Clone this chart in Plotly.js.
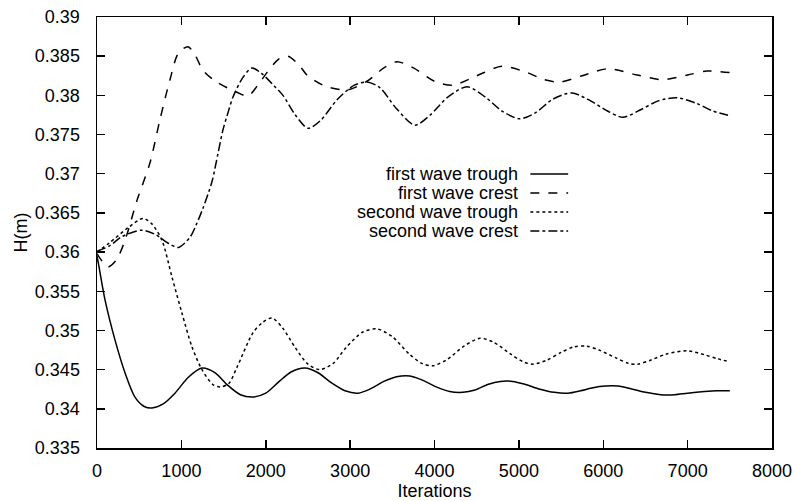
<!DOCTYPE html>
<html>
<head>
<meta charset="utf-8">
<script src="https://cdn.plot.ly/plotly-3.0.1.min.js"></script>
<style>html,body{margin:0;padding:0;background:#fff;}#chart{width:795px;height:501px;}</style>
</head>
<body>
<div id="chart"></div>
<script>
// Series data (Iterations, H in m)
const firstTroughX = [0,24,95,213,332,450,560,652,780,924,1080,1244,1400,1550,1700,1848,2000,2150,2300,2464,2620,2780,2940,3093,3250,3400,3550,3709,3850,4020,4180,4337,4480,4630,4780,4929,5080,5250,5420,5581,5730,5880,6030,6173,6350,6500,6680,6848,7000,7200,7350,7500];
const firstTroughY = [0.3595,0.3581,0.3539,0.3488,0.3446,0.3415,0.3403,0.3401,0.3406,0.342,0.344,0.3452,0.3446,0.343,0.3418,0.3415,0.342,0.3434,0.3447,0.3452,0.3446,0.3433,0.3423,0.342,0.3426,0.3435,0.3441,0.3442,0.3437,0.3428,0.3422,0.3421,0.3424,0.3431,0.3435,0.3435,0.3431,0.3425,0.3421,0.342,0.3423,0.3427,0.3429,0.3429,0.3425,0.3421,0.3418,0.3418,0.342,0.3422,0.3423,0.3423];

const firstCrestX = [0,36,130,230,332,474,628,746,865,965,1078,1160,1256,1418,1659,1789,1900,2014,2150,2263,2400,2488,2700,2962,3200,3400,3555,3750,4000,4218,4500,4799,5100,5300,5486,5750,6055,6400,6706,7000,7227,7500];
const firstCrestY = [0.3598,0.3592,0.3581,0.359,0.3615,0.3666,0.3714,0.3769,0.382,0.3854,0.3862,0.3852,0.3832,0.3817,0.3804,0.3799,0.3812,0.3829,0.3846,0.385,0.3838,0.3826,0.3812,0.3807,0.3818,0.3835,0.3843,0.3835,0.3818,0.3813,0.3825,0.3837,0.3829,0.382,0.3817,0.3825,0.3834,0.3826,0.382,0.3826,0.3831,0.3829];

const secondTroughX = [0,150,367,545,650,770,889,1007,1126,1244,1374,1457,1560,1659,1848,1960,2073,2200,2350,2500,2642,2800,2950,3150,3318,3500,3700,3850,3981,4150,4350,4538,4700,4900,5050,5166,5330,5500,5650,5806,5950,6150,6300,6410,6560,6750,6991,7200,7350,7500];
const secondTroughY = [0.36,0.3612,0.3631,0.3643,0.3636,0.3615,0.3568,0.3522,0.3479,0.345,0.3431,0.3428,0.3432,0.3453,0.3497,0.351,0.3516,0.3503,0.3478,0.3457,0.345,0.3458,0.3478,0.3498,0.3502,0.3492,0.347,0.3458,0.3455,0.3463,0.348,0.349,0.3485,0.347,0.346,0.3457,0.3462,0.3472,0.3479,0.348,0.3475,0.3465,0.3458,0.3457,0.3462,0.347,0.3474,0.3469,0.3464,0.346];

const secondCrestX = [0,150,300,533,700,850,965,1102,1180,1256,1363,1434,1493,1553,1612,1730,1836,1950,2100,2204,2350,2500,2650,2850,3050,3199,3350,3550,3768,3950,4150,4384,4600,4800,5012,5200,5400,5628,5850,6050,6232,6450,6650,6872,7100,7300,7500];
const secondCrestY = [0.3601,0.3608,0.362,0.3628,0.3622,0.3611,0.3606,0.3619,0.3636,0.3656,0.369,0.3726,0.3756,0.3778,0.3798,0.3823,0.3835,0.3828,0.3812,0.38,0.3775,0.3758,0.3768,0.3795,0.3813,0.3817,0.381,0.3783,0.3762,0.3775,0.3797,0.3811,0.3798,0.378,0.377,0.3778,0.3795,0.3803,0.3793,0.378,0.3772,0.3782,0.3793,0.3797,0.379,0.378,0.3774];

const seriesNames = ["first wave trough","first wave crest","second wave trough","second wave crest"];
const seriesDash = ["solid","dash","dot","dashdot"];
const xs = [firstTroughX, firstCrestX, secondTroughX, secondCrestX];
const ys = [firstTroughY, firstCrestY, secondTroughY, secondCrestY];

const FONT = "Liberation Sans, Arial, Helvetica, sans-serif";

const traces = seriesNames.map((n, i) => ({
  type: "scatter", mode: "lines", name: n,
  x: xs[i], y: ys[i],
  line: {color: "#000", width: 1.5, dash: seriesDash[i], shape: "spline", smoothing: 0.8},
  showlegend: false
}));

// Custom legend: right-aligned text with line sample on the right
const legX = 0.625, legLine0 = 0.642, legLine1 = 0.698;
const legY = [0.6357, 0.5916, 0.5476, 0.5035];
const annotations = seriesNames.map((n, i) => ({
  xref: "paper", yref: "paper", x: legX, y: legY[i], xanchor: "right", yanchor: "middle",
  text: n, showarrow: false, borderpad: 0, font: {family: FONT, size: 18, color: "#000"}
}));
const shapes = seriesNames.map((n, i) => ({
  type: "line", xref: "paper", yref: "paper", x0: legLine0, x1: legLine1, y0: legY[i], y1: legY[i],
  line: {color: "#000", width: 1.5, dash: seriesDash[i]}
}));

const layout = {
  width: 795, height: 501,
  margin: {l: 97, r: 23, t: 17, b: 53},
  paper_bgcolor: "#fff", plot_bgcolor: "#fff",
  font: {family: FONT, size: 18, color: "#000"},
  showlegend: false,
  xaxis: {
    range: [0, 8000], dtick: 1000, tick0: 0,
    showline: true, mirror: "ticks", linecolor: "#000", linewidth: 1.5,
    ticks: "inside", ticklen: 8, tickwidth: 1.5, tickcolor: "#000",
    showgrid: false, zeroline: false, ticklabelstandoff: 6,
    tickfont: {family: FONT, size: 18, color: "#000"},
    title: {text: "Iterations", font: {family: FONT, size: 18, color: "#000"}, standoff: 3}
  },
  yaxis: {
    range: [0.335, 0.39], dtick: 0.005, tick0: 0.335,
    showline: true, mirror: "ticks", linecolor: "#000", linewidth: 1.5,
    ticks: "inside", ticklen: 8, tickwidth: 1.5, tickcolor: "#000",
    showgrid: false, zeroline: false, ticklabelstandoff: 12,
    tickfont: {family: FONT, size: 18, color: "#000"},
    title: {text: "H(m)", font: {family: FONT, size: 18, color: "#000"}, standoff: 2}
  },
  annotations: annotations,
  shapes: shapes
};

Plotly.newPlot("chart", traces, layout, {displayModeBar: false, staticPlot: true});
</script>
</body>
</html>
